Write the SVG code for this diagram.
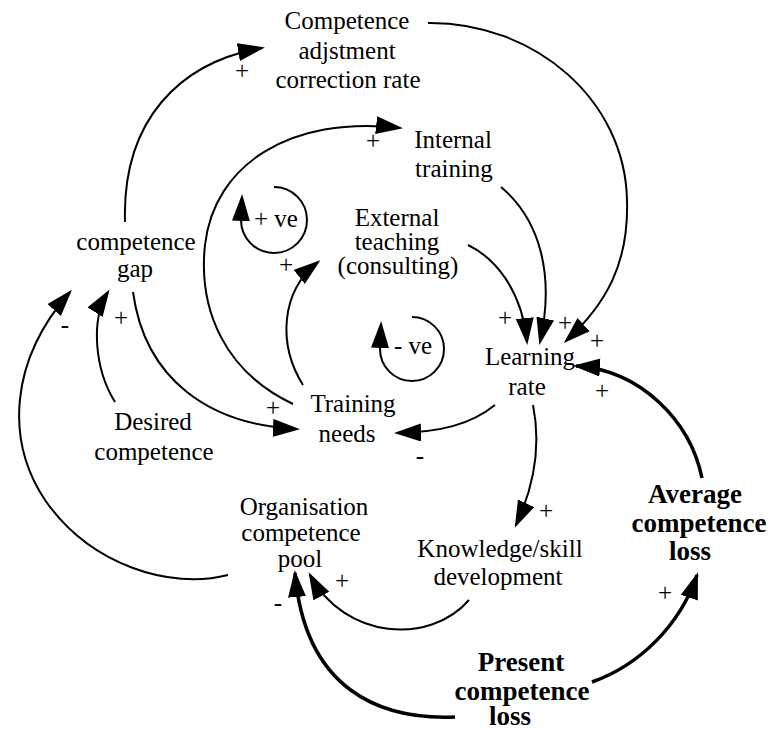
<svg xmlns="http://www.w3.org/2000/svg" width="771" height="733" viewBox="0 0 771 733" font-family="'Liberation Serif', 'Times New Roman', 'DejaVu Serif', serif">
<style>
text{font-family:'Liberation Serif','Times New Roman','DejaVu Serif',serif;font-size:25px;fill:#000;text-anchor:middle}
.b{font-weight:bold;font-size:27px}
.c{fill:none;stroke:#000;stroke-width:2}
.t{fill:none;stroke:#000;stroke-width:3.5}
.a{marker-end:url(#ah)}
</style>
<defs>
<marker id="ah" markerUnits="userSpaceOnUse" markerWidth="30" markerHeight="20" refX="24" refY="9" orient="auto">
<path d="M0,0 L27,9 L0,18 z" fill="#000"/>
</marker>
</defs>
<rect width="771" height="733" fill="#fff"/>
<g id="connectors">
<path class="c a" d="M125,222 C122,120 180,62 262,48"/>
<path class="c a" d="M428,23 C535,22 625,100 627,200 C629,265 605,305 566,341"/>
<path class="c a" d="M293,404 C225,372 198,310 205,245 C214,165 290,115 400,128"/>
<path class="c a" d="M303,385 C278,345 280,292 318,262"/>
<path class="c a" d="M468,245 C495,258 522,290 527,342"/>
<path class="c a" d="M501,187 C540,220 555,275 540,342"/>
<path class="t a" d="M702,478 C690,420 640,370 576,366"/>
<path class="c a" d="M495,405 C470,425 440,432 397,433"/>
<path class="c a" d="M533,405 C540,440 537,480 516,525"/>
<path class="c a" d="M469,600 C430,645 345,640 310,575"/>
<path class="t a" d="M455,717 C380,720 305,690 295,573"/>
<path class="t a" d="M592,682 C640,665 680,625 697,575"/>
<path class="c a" d="M228,575 C170,590 90,565 45,500 C5,440 10,360 70,292"/>
<path class="c a" d="M115,402 C95,370 90,320 108,292"/>
<path class="c a" d="M133,292 C145,380 210,425 297,429"/>
<path class="c a" d="M274,187 A33,33 0 1 1 241,220 L242,197"/>
<path class="c a" d="M412,317 A32,32 0 1 1 380,349 L381,324"/>
</g>
<g id="labels">
<text x="242" y="79">+</text>
<text x="373" y="149">+</text>
<text x="286" y="273">+</text>
<text x="505" y="326">+</text>
<text x="565" y="331">+</text>
<text x="597" y="349">+</text>
<text x="602" y="399">+</text>
<text x="546" y="519">+</text>
<text x="342" y="589">+</text>
<text x="665" y="601">+</text>
<text x="121" y="326">+</text>
<text x="273" y="416">+</text>
<text x="65" y="333">-</text>
<text x="420" y="464">-</text>
<text x="278" y="611">-</text>
<text x="276" y="227">+ ve</text>
<text x="413" y="354">- ve</text>
</g>
<g id="n-adjustment"><text x="347" y="29">Competence</text><text x="347" y="59">adjstment</text><text x="348" y="88">correction rate</text></g>
<g id="n-internal"><text x="453" y="148">Internal</text><text x="454" y="177">training</text></g>
<g id="n-external"><text x="397" y="226">External</text><text x="397" y="250">teaching</text><text x="398" y="274">(consulting)</text></g>
<g id="n-gap"><text x="136" y="250">competence</text><text x="135" y="277">gap</text></g>
<g id="n-desired"><text x="153" y="430">Desired</text><text x="154" y="460">competence</text></g>
<g id="n-training"><text x="353" y="412">Training</text><text x="347" y="442">needs</text></g>
<g id="n-learning"><text x="530" y="365">Learning</text><text x="527" y="395">rate</text></g>
<g id="n-pool"><text x="304" y="515">Organisation</text><text x="301" y="541">competence</text><text x="300" y="567">pool</text></g>
<g id="n-knowledge"><text x="500" y="557">Knowledge/skill</text><text x="498" y="585">development</text></g>
<g id="n-average"><text class="b" x="695" y="503">Average</text><text class="b" x="699" y="532">competence</text><text class="b" x="690" y="560">loss</text></g>
<g id="n-present"><text class="b" x="521" y="671">Present</text><text class="b" x="522" y="700">competence</text><text class="b" x="510" y="725">loss</text></g>
</svg>
